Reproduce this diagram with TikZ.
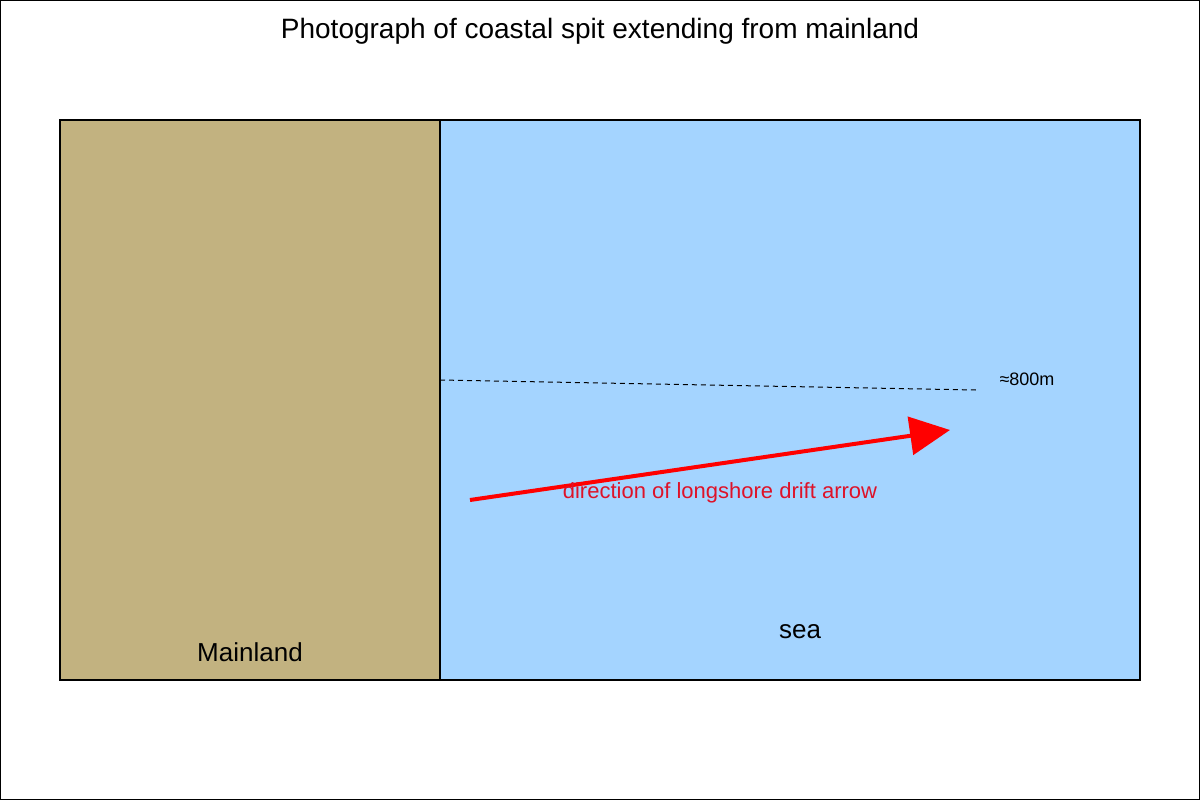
\documentclass[tikz,border=0pt]{standalone}
\usepackage{fontspec}
\setmainfont{Liberation Sans}
\usetikzlibrary{arrows.meta}
\definecolor{landcol}{RGB}{194,178,128}
\definecolor{seacol}{RGB}{164,212,255}
\definecolor{drifttext}{RGB}{222,18,40}
\begin{document}
\begin{tikzpicture}[x=1pt,y=-1pt,
  region/.style={draw=black,line width=2pt},
  lbl/.style={inner sep=0pt,anchor=center},
  drift/.style={draw=red,line width=4pt,-{Triangle[length=40pt,width=38pt]}},
  measure/.style={draw=black,line width=1pt,dash pattern=on 5pt off 4pt}]
\useasboundingbox (0,0) rectangle (1200,800);
\draw[line width=1pt] (0.5,0.5) rectangle (1199.5,799.5);
\node[lbl,font=\fontsize{28}{32}\selectfont] (title) at (600,31) {Photograph of coastal spit extending from mainland};
\path[region,fill=landcol] (60,120) rectangle (440,680);
\path[region,fill=seacol] (440,120) rectangle (1140,680);
\coordinate (dashA) at (440,380);
\coordinate (dashB) at (976,390);
\draw[measure] (dashA) -- (dashB);
\node[lbl,font=\fontsize{18}{20}\selectfont] (dist) at (1027,379) {≈800m};
\coordinate (arrA) at (470,500);
\coordinate (arrB) at (950,430);
\draw[drift] (arrA) -- (arrB);
\node[lbl,text=drifttext,font=\fontsize{22}{25}\selectfont] (drifttxt) at (720,493) {direction of longshore drift arrow};
\node[lbl,font=\fontsize{26}{29}\selectfont] (sea) at (800,632) {sea};
\node[lbl,font=\fontsize{26}{29}\selectfont] (mainland) at (250,652) {Mainland};
\end{tikzpicture}
\end{document}
